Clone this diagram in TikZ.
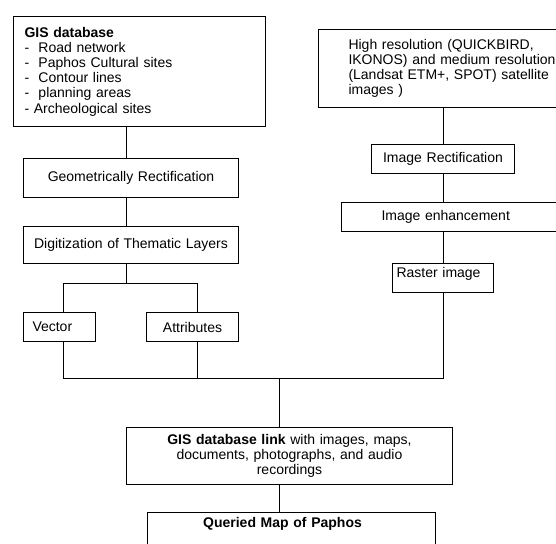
\documentclass[tikz,border=0pt]{standalone}
\usepackage{fontspec}
\setmainfont{Liberation Sans}
\begin{document}
\begin{tikzpicture}[x=1pt,y=-1pt,
  box/.style={draw, line width=1pt, anchor=north west, inner ysep=0pt,
    font=\fontsize{14}{15.2}\selectfont},
  conn/.style={line width=1pt}]
\useasboundingbox (0,0) rectangle (556,543);
\fill[white] (0,0) rectangle (556,543);
\clip (0,0) rectangle (556,543);
% left column
\node[box, minimum width=252pt, minimum height=110pt, inner xsep=11pt, text width=230pt, align=left] (gis) at (13,16)
  {\textbf{GIS database}\\-~~Road network\\-~~Paphos Cultural sites\\-~~Contour lines\\-~~planning areas\\- Archeological sites};
\node[box, minimum width=215pt, minimum height=39pt, inner xsep=2pt, text width=211pt, align=center] (geo) at (23,158)
  {Geometrically Rectification};
\node[box, minimum width=215pt, minimum height=37pt, inner xsep=2pt, text width=211pt, align=center] (dig) at (23,226)
  {Digitization of Thematic Layers};
\node[box, minimum width=72pt, minimum height=29pt, inner xsep=9pt, text width=54pt, align=left] (vec) at (23,312)
  {Vector};
\node[box, minimum width=92pt, minimum height=29pt, inner xsep=2pt, text width=88pt, align=center] (attr) at (146,312)
  {Attributes};
% right column
\node[box, minimum width=300pt, minimum height=78pt, inner xsep=30pt, text width=240pt, align=left] (hires) at (318,29)
  {High resolution (QUICKBIRD,\\IKONOS) and medium resolution\\(Landsat ETM+, SPOT) satellite\\images )};
\node[box, minimum width=143pt, minimum height=29pt, inner xsep=2pt, text width=139pt, align=center] (imrect) at (371,144)
  {Image Rectification};
\node[box, minimum width=240pt, minimum height=29pt, inner xsep=40pt, text width=160pt, align=left] (imenh) at (341,202)
  {Image enhancement};
\node[box, minimum width=101pt, minimum height=29pt, inner xsep=4pt, text width=93pt, align=left] (raster) at (392,263)
  {\raisebox{4pt}[\height][\depth]{Raster image}};
% bottom
\node[box, minimum width=326pt, minimum height=57pt, inner xsep=2pt, text width=322pt, align=center] (link) at (126,427)
  {\textbf{GIS database link} with images, maps,\\documents, photographs, and audio\\recordings};
\node[box, minimum width=288pt, minimum height=60pt, inner xsep=2pt, text width=284pt, align=center] (query) at (147,512)
  {\hspace*{-18pt}\raisebox{19pt}[\height][\depth]{\textbf{Queried Map of Paphos}}};
% connectors
\coordinate (ls) at (126,0);
\coordinate (rs) at (443,0);
\coordinate (vx) at (63,283);
\coordinate (ax) at (197,283);
\coordinate (m) at (279,378);
\draw[conn] (gis.south -| ls) -- (geo.north -| ls);
\draw[conn] (geo.south -| ls) -- (dig.north -| ls);
\draw[conn] (dig.south -| ls) -- (ls |- vx);
\draw[conn] (vec.north -| vx) -- (vx) -- (ax) -- (attr.north -| ax);
\draw[conn] (vec.south -| vx) -- (vx |- m) -- (rs |- m) -- (raster.south -| rs);
\draw[conn] (attr.south -| ax) -- (ax |- m);
\draw[conn] (m) -- (link.north -| m);
\draw[conn] (link.south -| m) -- (query.north -| m);
\draw[conn] (hires.south -| rs) -- (imrect.north -| rs);
\draw[conn] (imrect.south -| rs) -- (imenh.north -| rs);
\draw[conn] (imenh.south -| rs) -- (raster.north -| rs);
\end{tikzpicture}
\end{document}
